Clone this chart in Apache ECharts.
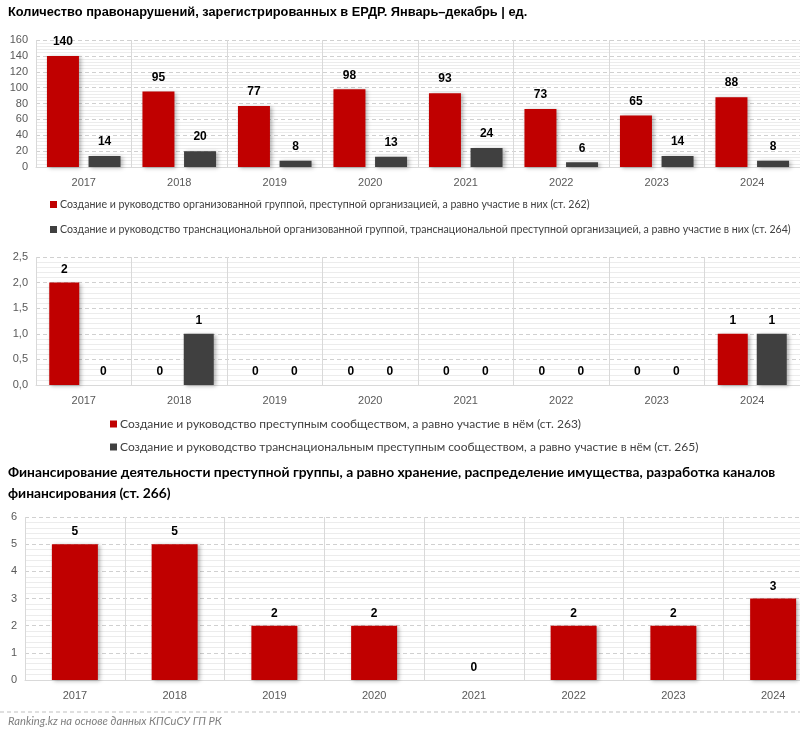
<!DOCTYPE html>
<html><head><meta charset="utf-8">
<script src="https://cdn.jsdelivr.net/npm/echarts@6/dist/echarts.min.js"></script>
<style>html,body{margin:0;padding:0;background:#fff}#c{width:800px;height:735px}</style>
</head><body><div id="c"></div>
<script>
const years = ['2017','2018','2019','2020','2021','2022','2023','2024'];
const name262 = 'Создание и руководство организованной группой, преступной организацией, а равно участие в них (ст. 262)';
const name264 = 'Создание и руководство транснациональной организованной группой, транснациональной преступной организацией, а равно участие в них (ст. 264)';
const name263 = 'Создание и руководство преступным сообществом, а равно участие в нём (ст. 263)';
const name265 = 'Создание и руководство транснациональным преступным сообществом, а равно участие в нём (ст. 265)';
const name266 = 'Финансирование (ст. 266)';
const s262 = [140,95,77,98,93,73,65,88];
const s264 = [14,20,8,13,24,6,14,8];
const s263 = [2,0,0,0,0,0,0,1];
const s265 = [0,1,0,0,0,0,0,1];
const s266 = [5,5,2,2,0,2,2,3];
const title1 = 'Количество правонарушений, зарегистрированных в ЕРДР. Январь–декабрь | ед.';
const title3 = 'Финансирование деятельности преступной группы, а равно хранение, распределение имущества, разработка каналов\nфинансирования (ст. 266)';
const source = 'Ranking.kz на основе данных КПСиСУ ГП РК';

const RED = '#c00000', DARK = '#404040', GRAY = '#595959';
const NARROW = "Lato,sans-serif";
const FONT = "'Liberation Sans',Arial,sans-serif";

function xAx(gi){
  return {type:'category', gridIndex:gi, data:years,
    axisLine:{lineStyle:{color:'#d9d9d9'}}, axisTick:{show:false},
    axisLabel:{color:GRAY, fontSize:11, fontFamily:FONT, margin:10},
    splitLine:{show:true, lineStyle:{color:'#d9d9d9', width:1}}};
}
function yAx(gi, max, interval, fmt){
  return {type:'value', gridIndex:gi, min:0, max:max, interval:interval,
    axisLine:{show:false}, axisTick:{show:false},
    axisLabel:{color:GRAY, fontSize:11, fontFamily:FONT, margin:8, formatter:fmt},
    splitLine:{show:true, lineStyle:{color:'#d0d0d0', type:[4,3]}},
    minorTick:{show:false, splitNumber:5},
    minorSplitLine:{show:true, lineStyle:{color:'#ececec'}}};
}
function bar(name, data, gi, color, w, dist){
  return {type:'bar', name:name, data:data, xAxisIndex:gi, yAxisIndex:gi,
    barWidth:w, barGap:'30%',
    itemStyle:{color:color, shadowBlur:4, shadowOffsetX:2, shadowOffsetY:1, shadowColor:'rgba(0,0,0,0.3)'},
    label:{show:true, position:'top', distance:dist, color:'#000', fontWeight:'bold', fontSize:12, fontFamily:FONT},
    emphasis:{disabled:true}};
}
function leg(name, color, left, top, fs){
  return {data:[{name:name, itemStyle:{color:color}}], left:left, top:top, icon:'rect', padding:0,
    itemWidth:7, itemHeight:7, itemGap:4, selectedMode:false,
    textStyle:{color:'#404040', fontSize:fs, fontFamily:NARROW, padding:[0,0,0,-2]}};
}

const chart = echarts.init(document.getElementById('c'), null, {renderer:'canvas'});
chart.setOption({
  animation:false,
  title:[
    {text:title1, left:8, top:6, padding:0, textStyle:{fontSize:12.8, fontWeight:'bold', color:'#000', fontFamily:FONT}},
    {text:title3, left:8, top:462, padding:0, textStyle:{fontSize:13.8, fontWeight:'bold', color:'#000', fontFamily:NARROW, lineHeight:21}},
    {text:source, left:8, top:716, padding:0, textStyle:{fontSize:11.2, fontStyle:'italic', fontWeight:'normal', color:'#7f7f7f', fontFamily:NARROW}}
  ],
  grid:[
    {left:36, right:0, top:40, height:127, outerBoundsMode:'none'},
    {left:36, right:0, top:257, height:128, outerBoundsMode:'none'},
    {left:25, right:-23, top:517, height:163, outerBoundsMode:'none'}
  ],
  xAxis:[xAx(0), xAx(1), xAx(2)],
  yAxis:[
    yAx(0,160,20),
    yAx(1,2.5,0.5,v=>v.toFixed(1).replace('.',',')),
    yAx(2,6,1)
  ],
  legend:[
    leg(name262, RED, 50, 199, 10.6),
    leg(name264, DARK, 50, 224, 10.6),
    leg(name263, RED, 110, 418, 12),
    leg(name265, DARK, 110, 441, 12)
  ],
  series:[
    bar(name262, s262, 0, RED, 32, 8),
    bar(name264, s264, 0, DARK, 32, 8),
    bar(name263, s263, 1, RED, 30, 7),
    bar(name265, s265, 1, DARK, 30, 7),
    bar(name266, s266, 2, RED, 46, 6)
  ],
  graphic:[
    {type:'line', shape:{x1:0,y1:712,x2:800,y2:712}, style:{stroke:'#bfbfbf', lineDash:[4,3], lineWidth:1}}
  ]
});
</script></body></html>
